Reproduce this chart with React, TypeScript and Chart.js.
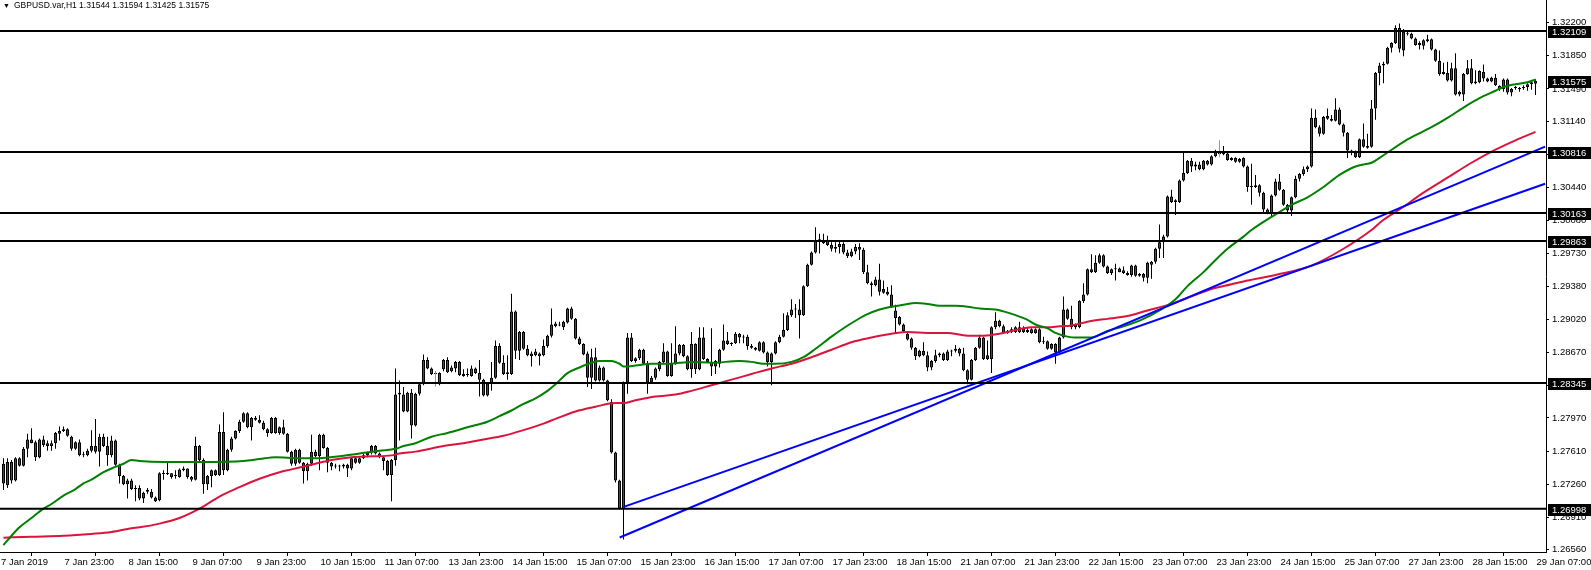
import React, { useEffect, useRef } from "react";
import { Chart, registerables } from "chart.js";

Chart.register(...registerables);

// ---------- layout constants ----------
const W = 1591;
const H = 570;
const AXIS_X = 1546; // right edge of plot area (price axis line)
const PLOT_BOTTOM = 552; // bottom edge of plot area (time axis line)
const BAR_PX = 4;
const FIRST_BAR_PX = 3.5;
const REF_PRICE = 1.322;
const REF_Y = 22.5;
const PRICE_PER_PX = 0.00010696;
const X_MIN = -FIRST_BAR_PX / BAR_PX;
const X_MAX = X_MIN + AXIS_X / BAR_PX;
const Y_MAX = REF_PRICE + REF_Y * PRICE_PER_PX;
const Y_MIN = REF_PRICE - (PLOT_BOTTOM - REF_Y) * PRICE_PER_PX;
const FONT = '"Liberation Sans", Arial, sans-serif';

// ---------- data (prices in pips: 12748 = 1.2748) ----------
const PIP = 10000;

const OPEN = [
  12748,12725,12750,12730,12754,12746,12764,12774,12771,12755,
  12774,12770,12767,12770,12780,12783,12785,12777,12764,12771,
  12758,12757,12762,12767,12761,12777,12767,12757,12773,12747,
  12735,12726,12730,12721,12722,12711,12720,12718,12712,12709,
  12738,12737,12738,12735,12734,12741,12743,12734,12731,12767,
  12752,12726,12735,12741,12736,12782,12741,12763,12775,12783,
  12793,12802,12787,12797,12795,12792,12785,12781,12797,12781,
  12787,12780,12761,12748,12763,12749,12740,12748,12761,12756,
  12779,12765,12749,12745,12746,12745,12747,12743,12754,12749,
  12754,12757,12760,12767,12759,12755,12751,12736,12752,12824,
  12822,12804,12824,12789,12823,12833,12859,12850,12844,12845,
  12849,12859,12851,12850,12857,12844,12843,12842,12850,12845,
  12838,12821,12834,12840,12874,12856,12846,12844,12911,12869,
  12889,12871,12866,12864,12866,12864,12874,12885,12898,12896,
  12894,12899,12914,12903,12882,12876,12866,12840,12862,12837,
  12851,12837,12814,12760,12730,12700,12835,12883,12858,12861,
  12870,12855,12835,12840,12849,12857,12868,12842,12855,12866,
  12875,12863,12849,12876,12849,12883,12860,12857,12858,12855,
  12870,12880,12876,12877,12887,12883,12884,12874,12872,12869,
  12878,12867,12857,12866,12878,12884,12891,12907,12913,12913,
  12907,12938,12961,12974,12987,12984,12987,12982,12978,12980,
  12983,12974,12970,12975,12980,12977,12953,12941,12939,12945,
  12935,12932,12929,12912,12905,12897,12887,12882,12872,12863,
  12869,12864,12851,12858,12864,12866,12859,12868,12869,12871,
  12866,12848,12838,12859,12872,12883,12864,12860,12894,12901,
  12895,12888,12892,12889,12894,12893,12889,12892,12888,12892,
  12878,12879,12871,12876,12867,12883,12913,12903,12897,12894,
  12922,12929,12956,12953,12963,12971,12959,12952,12956,12957,
  12955,12952,12950,12960,12949,12951,12947,12961,12964,12978,
  12985,12991,13034,13030,13028,13051,13059,13072,13066,13068,
  13063,13072,13068,13077,13082,13082,13080,13075,13075,13074,
  13075,13066,13045,13044,13046,13038,13020,13016,13035,13050,
  13041,13025,13019,13033,13053,13058,13063,13066,13118,13108,
  13101,13117,13117,13115,13127,13111,13102,13083,13081,13076,
  13095,13086,13087,13128,13166,13174,13176,13193,13198,13214,
  13190,13208,13208,13203,13196,13195,13200,13202,13191,13179,
  13167,13166,13158,13171,13146,13143,13165,13171,13155,13156,
  13167,13160,13157,13161,13152,13149,13159,13145,13150,13149,
  13150,13151,13154,13154.4,
];

const HIGH = [
  12754,12754,12752,12755,12755,12766,12780,12786,12773,12775,
  12778,12773,12773,12782,12788,12788,12786,12778,12772,12774,
  12761,12764,12784,12796,12780,12780,12777,12778,12774,12748,
  12736,12732,12732,12725,12725,12718,12722,12721,12713,12739,
  12741,12749,12738,12741,12743,12745,12743,12735,12777,12768,
  12754,12736,12742,12742,12790,12803,12764,12777,12784,12795,
  12803,12803,12798,12799,12800,12794,12786,12798,12798,12788,
  12795,12781,12762,12764,12764,12750,12749,12779,12763,12780,
  12780,12766,12750,12748,12747,12748,12748,12755,12755,12755,
  12759,12761,12768,12768,12760,12756,12752,12753,12850,12837,
  12830,12825,12828,12824,12834,12865,12862,12851,12847,12846,
  12860,12862,12853,12858,12858,12849,12850,12853,12851,12859,
  12839,12835,12857,12880,12877,12864,12864,12930,12912,12890,
  12890,12875,12868,12871,12867,12881,12886,12914,12900,12900,
  12901,12915,12916,12904,12884,12877,12868,12871,12872,12853,
  12852,12838,12817,12761,12731,12836,12888,12888,12862,12871,
  12871,12858,12842,12851,12858,12877,12869,12877,12895,12876,
  12876,12864,12889,12877,12894,12894,12861,12893,12859,12871,
  12897,12889,12878,12889,12888,12886,12886,12876,12873,12879,
  12879,12868,12867,12879,12886,12909,12910,12924,12919,12924,
  12939,12962,12975,13001,12994,12994,12992,12985,12985,12986,
  12985,12977,12978,12983,12984,12979,12961,12943,12948,12962,
  12944,12937,12939,12918,12906,12898,12888,12883,12873,12870,
  12878,12868,12859,12870,12867,12867,12870,12870,12875,12872,
  12872,12849,12860,12873,12886,12884,12880,12895,12910,12902,
  12897,12891,12894,12895,12900,12895,12894,12893,12893,12893,
  12884,12880,12877,12877,12884,12927,12914,12917,12898,12923,
  12941,12957,12972,12971,12973,12972,12960,12957,12962,12958,
  12959,12954,12961,12961,12952,12952,12964,12965,12979,13004,
  12993,13035,13041,13031,13052,13081,13073,13075,13071,13071,
  13073,13073,13078,13084,13083,13088,13081,13076,13076,13075,
  13076,13067,13069,13057,13047,13039,13021,13036,13053,13058,
  13042,13026,13034,13056,13059,13066,13067,13128,13127,13110,
  13120,13128,13121,13139,13129,13112,13103,13084,13083,13096,
  13112,13101,13137,13167,13177,13178,13194,13199,13217,13219,
  13213,13212,13209,13204,13200,13202,13207,13203,13192,13190,
  13177,13178,13177,13187,13147,13166,13180,13181,13169,13169,
  13175,13161,13162,13165,13153,13160,13160,13150,13152,13151,
  13153,13155,13158,13159.4,
];

const LOW = [
  12720,12722,12727,12729,12745,12745,12755,12770,12751,12754,
  12766,12762,12762,12764,12773,12782,12777,12762,12763,12756,
  12755,12756,12760,12759,12745,12766,12746,12755,12746,12727,
  12725,12711,12720,12708,12709,12706,12716,12711,12707,12708,
  12731,12736,12732,12732,12733,12740,12732,12729,12730,12751,
  12716,12720,12723,12735,12735,12736,12740,12761,12774,12781,
  12792,12786,12773,12794,12791,12784,12777,12780,12780,12779,
  12779,12760,12746,12746,12748,12727,12730,12746,12755,12741,
  12764,12739,12741,12743,12740,12743,12734,12741,12748,12748,
  12753,12755,12758,12758,12754,12741,12735,12708,12746,12773,
  12803,12803,12775,12788,12821,12832,12849,12843,12831,12832,
  12847,12845,12846,12846,12842,12841,12841,12841,12844,12820,
  12820,12820,12826,12839,12855,12843,12838,12843,12860,12859,
  12870,12863,12852,12863,12853,12863,12872,12883,12894,12895,
  12891,12898,12902,12881,12875,12864,12830,12828,12836,12836,
  12836,12815,12759,12728,12699,12667,12823,12857,12856,12859,
  12854,12823,12834,12838,12847,12855,12841,12841,12854,12864,
  12862,12848,12840,12844,12848,12859,12856,12842,12844,12851,
  12869,12875,12874,12876,12877,12877,12870,12871,12869,12868,
  12866,12852,12832,12865,12877,12883,12890,12905,12904,12882,
  12906,12937,12960,12973,12973,12983,12981,12975,12974,12973,
  12972,12968,12969,12972,12966,12951,12940,12927,12938,12928,
  12930,12928,12915,12888,12896,12889,12880,12870,12859,12862,
  12863,12847,12848,12856,12862,12858,12858,12863,12867,12863,
  12847,12833,12837,12858,12871,12859,12859,12845,12892,12894,
  12887,12887,12888,12888,12888,12888,12888,12887,12887,12877,
  12876,12870,12870,12855,12865,12882,12902,12892,12892,12893,
  12920,12928,12952,12952,12962,12958,12951,12950,12944,12953,
  12951,12949,12948,12948,12948,12943,12941,12946,12962,12968,
  12968,12990,13027,13014,13027,13050,13058,13060,13062,13062,
  13062,13067,13067,13076,13078,13078,13072,13072,13070,13070,
  13065,13039,13025,13043,13034,13017,13015,13012,13034,13040,
  13024,13016,13013,13032,13050,13056,13060,13065,13107,13098,
  13100,13116,13114,13114,13110,13098,13075,13078,13075,13075,
  13086,13085,13086,13116,13153,13155,13175,13188,13197,13188,
  13184,13206,13202,13195,13191,13191,13199,13190,13178,13163,
  13164,13157,13157,13142,13141,13136,13164,13154,13154,13155,
  13157,13156,13156,13152,13147,13146,13143,13141,13148,13146,
  13148,13147,13148,13142.5,
];

const CLOSE = [
  12727,12750,12730,12754,12746,12764,12774,12770,12755,12774,
  12768,12767,12770,12781,12783,12785,12778,12764,12771,12757,
  12757,12762,12767,12761,12777,12767,12757,12773,12747,12735,
  12726,12730,12721,12722,12711,12717,12718,12712,12708,12738,
  12737,12738,12734,12735,12742,12743,12734,12731,12767,12752,
  12726,12735,12741,12736,12782,12741,12763,12775,12783,12793,
  12802,12787,12797,12795,12792,12785,12781,12797,12781,12787,
  12780,12761,12748,12763,12749,12740,12748,12761,12756,12779,
  12765,12749,12745,12746,12745,12747,12743,12754,12749,12754,
  12757,12760,12767,12759,12755,12751,12736,12752,12822,12822,
  12804,12824,12789,12823,12833,12859,12850,12844,12845,12833,
  12859,12846,12847,12857,12843,12842,12843,12850,12845,12838,
  12821,12834,12840,12874,12856,12844,12844,12911,12869,12889,
  12871,12864,12863,12868,12863,12874,12885,12897,12895,12897,
  12900,12914,12903,12882,12876,12865,12840,12862,12837,12851,
  12837,12816,12760,12730,12700,12835,12883,12858,12861,12870,
  12855,12835,12840,12850,12857,12868,12842,12855,12866,12875,
  12863,12849,12876,12849,12883,12860,12857,12852,12852,12870,
  12880,12876,12877,12887,12883,12884,12874,12872,12870,12878,
  12867,12857,12866,12878,12884,12891,12907,12913,12914,12907,
  12938,12961,12974,12987,12988,12987,12982,12978,12980,12983,
  12974,12970,12975,12980,12977,12953,12941,12939,12945,12932,
  12931,12929,12916,12904,12897,12890,12881,12872,12863,12869,
  12864,12851,12858,12864,12866,12859,12868,12869,12871,12866,
  12848,12838,12859,12872,12883,12860,12860,12894,12901,12895,
  12888,12890,12889,12894,12889,12889,12891,12888,12892,12878,
  12879,12871,12876,12867,12883,12913,12903,12894,12894,12922,
  12929,12956,12953,12963,12971,12959,12952,12956,12957,12953,
  12952,12950,12960,12949,12951,12947,12963,12964,12978,12985,
  12991,13034,13028,13028,13051,13059,13072,13066,13068,13063,
  13072,13068,13077,13082,13079,13079,13073,13073,13071,13071,
  13066,13044,13044,13046,13038,13020,13016,13035,13050,13041,
  13025,13019,13033,13053,13058,13063,13066,13118,13108,13101,
  13119,13120,13115,13127,13111,13102,13083,13081,13076,13095,
  13087,13088,13128,13166,13174,13176,13193,13198,13214,13192,
  13210,13209,13203,13196,13198,13201,13202,13191,13179,13165,
  13165,13158,13171,13143,13143,13165,13171,13155,13157,13168,
  13160,13157,13161,13153,13149,13159,13145,13149,13150,13149,
  13151,13154,13156,13157.5,
];

// moving averages read at selected bars: [bar index, pips]
const GREEN_MA = [
  [0,12661],[2,12671],[4,12680],[7,12690],[10,12700],[12,12705],[15,12714],[18,12721],
  [20,12727],[22,12731],[25,12739],[27,12743],[30,12748],[32,12752],[34,12751],[40,12750],
  [50,12750],[60,12751],[64,12753],[68,12755],[74,12754],[79,12754],[84,12756],[89,12759],
  [94,12762],[98,12764],[100,12767],[103,12770],[107,12777],[111,12781],[116,12787],[121,12793],
  [124,12799],[127,12805],[130,12812],[133,12818],[136,12826],[138,12833],[141,12845],[144,12851],
  [147,12856],[149,12858],[152,12858],[154,12855],[155,12852],[158,12853],[162,12855],[166,12855],
  [169,12856],[172,12857],[177,12856],[184,12858],[187,12857],[190,12855],[193,12855],[197,12857],
  [200,12862],[203,12871],[207,12884],[210,12893],[213,12901],[216,12908],[219,12913],[222,12916],
  [225,12918],[228,12920],[231,12919],[234,12917],[238,12917],[241,12916],[244,12914],[248,12913],
  [250,12911],[253,12907],[256,12902],[258,12897],[261,12893],[263,12888],[266,12884],[268,12883],
  [271,12883],[273,12884],[274,12886],[276,12890],[280,12895],[285,12903],[289,12912],[293,12924],
  [296,12938],[300,12953],[303,12966],[306,12978],[310,12991],[312,12998],[317,13012],[322,13025],
  [326,13033],[330,13044],[334,13057],[338,13066],[341,13069],[342,13070],[345,13078],[351,13095],
  [357,13108],[361,13118],[365,13129],[369,13139],[373,13147],[375,13151],[378,13154],[381,13156],
  [383,13159],
];

const RED_MA = [
  [0,12669],[7,12670],[15,12671],[22,12673],[27,12675],[32,12679],[34,12680],[39,12684],
  [44,12690],[49,12700],[54,12713],[59,12723],[64,12732],[69,12739],[72,12742],[77,12747],
  [82,12752],[87,12755],[92,12756],[97,12757],[99,12759],[103,12761],[110,12767],[115,12770],
  [120,12774],[125,12778],[130,12784],[135,12791],[138,12796],[143,12804],[148,12809],[153,12813],
  [155,12813],[158,12816],[163,12820],[168,12822],[172,12826],[177,12832],[182,12838],[187,12844],
  [192,12850],[197,12855],[202,12862],[207,12870],[212,12878],[217,12883],[222,12887],[226,12889],
  [231,12888],[236,12888],[241,12885],[245,12885],[249,12887],[253,12891],[257,12894],[261,12894],
  [264,12895],[267,12896],[271,12900],[274,12902],[276,12903],[281,12906],[286,12912],[292,12919],
  [297,12927],[302,12935],[307,12940],[310,12943],[318,12950],[327,12960],[335,12978],[342,12998],
  [345,13009],[349,13020],[355,13038],[361,13054],[367,13070],[373,13084],[378,13094],[383,13103],
];

// horizontal levels
const LEVELS = [1.32109, 1.30816, 1.30163, 1.29863, 1.28345, 1.26998];
const CURRENT_PRICE = 1.31575;

// trend lines: [bar index, price] anchors
const TREND_A = [[154.05, 1.26692], [385.4, 1.30873]];
const TREND_B = [[155.05, 1.27019], [385.4, 1.30476]];

// lime marks: [bar, low pips, high pips]
const MARKS = [[108, 12831, 12847], [304, 13076, 13094]];

const PRICE_TICKS = [
  1.322, 1.3185, 1.3149, 1.3114, 1.3079, 1.3044, 1.3008, 1.2973, 1.2938,
  1.2902, 1.2867, 1.2832, 1.2797, 1.2761, 1.2726, 1.2691, 1.2656,
];

const TIME_LABELS = [
  "7 Jan 2019", "7 Jan 23:00", "8 Jan 15:00", "9 Jan 07:00", "9 Jan 23:00",
  "10 Jan 15:00", "11 Jan 07:00", "13 Jan 23:00", "14 Jan 15:00", "15 Jan 07:00",
  "15 Jan 23:00", "16 Jan 15:00", "17 Jan 07:00", "17 Jan 23:00", "18 Jan 15:00",
  "21 Jan 07:00", "21 Jan 23:00", "22 Jan 15:00", "23 Jan 07:00", "23 Jan 23:00",
  "24 Jan 15:00", "25 Jan 07:00", "27 Jan 23:00", "28 Jan 15:00", "29 Jan 07:00",
];
// bar index of each label (first one sits on the left edge)
const TIME_TICK_BARS = [
  X_MIN, 15, 31, 47, 63, 79, 95, 111, 127, 143, 159, 175, 191, 207, 223,
  239, 255, 271, 287, 303, 319, 335, 351, 367, 383,
];

const TITLE = "GBPUSD.var,H1 1.31544 1.31594 1.31425 1.31575";

const BULL = "#008000";
const BEAR = "#b01e23";
const GREEN_LINE = "#008000";
const RED_LINE = "#dc143c";
const BLUE_LINE = "#0000ff";

const levelBoxes = {
  id: "levelBoxes",
  afterDraw(chart: any) {
    const ctx = chart.ctx;
    const ys = chart.scales.y;
    ctx.save();
    ctx.font = `9.5px ${FONT}`;
    ctx.textBaseline = "middle";
    ctx.textAlign = "left";
    for (const v of [...LEVELS, CURRENT_PRICE]) {
      const py = Math.round(ys.getPixelForValue(v));
      ctx.fillStyle = "#000";
      ctx.fillRect(AXIS_X + 2, py - 5, W - AXIS_X - 2, 12);
      ctx.fillStyle = "#fff";
      ctx.fillText(v.toFixed(5), AXIS_X + 6, py + 1);
    }
    ctx.restore();
  },
};

export default function App() {
  const ref = useRef<HTMLCanvasElement | null>(null);

  useEffect(() => {
    document.body.style.margin = "0";
    document.body.style.overflow = "hidden";
    const idx = OPEN.map((_, i) => i);
    const wickData = idx.map((i) => ({ x: i, y: [LOW[i] / PIP, HIGH[i] / PIP] }));
    const bodyData = idx.map((i) => ({ x: i, y: [OPEN[i] / PIP, CLOSE[i] / PIP] }));
    const bodyColors = idx.map((i) => (CLOSE[i] >= OPEN[i] ? BULL : BEAR));
    const markData = MARKS.map(([b, l, h]) => ({ x: b, y: [l / PIP, h / PIP] }));

    const lineBase = {
      type: "line" as const,
      pointRadius: 0,
      pointHoverRadius: 0,
      fill: false,
      borderWidth: 2,
    };

    const levelSets = LEVELS.map((v) => ({
      ...lineBase,
      data: [
        { x: X_MIN, y: v },
        { x: X_MAX, y: v },
      ],
      borderColor: "#000",
      order: 0,
    }));

    const trendSets = [TREND_A, TREND_B].map((t) => ({
      ...lineBase,
      data: t.map(([x, y]) => ({ x, y })),
      borderColor: BLUE_LINE,
      order: 0,
    }));

    const chart = new Chart(ref.current as HTMLCanvasElement, {
      type: "bar",
      data: {
        datasets: [
          {
            type: "bar",
            data: wickData as any,
            backgroundColor: "#000",
            borderWidth: 0,
            barThickness: 1,
            maxBarThickness: 1,
            grouped: false,
            minBarLength: 1,
            inflateAmount: 0,
            order: 5,
          } as any,
          {
            type: "bar",
            data: bodyData as any,
            backgroundColor: bodyColors,
            borderColor: "#000",
            borderWidth: 1,
            borderSkipped: false,
            barThickness: 3,
            maxBarThickness: 3,
            grouped: false,
            minBarLength: 1,
            inflateAmount: 0,
            order: 4,
          } as any,
          {
            type: "bar",
            data: markData as any,
            backgroundColor: "#00ff00",
            borderWidth: 0,
            barThickness: 1,
            maxBarThickness: 1,
            grouped: false,
            inflateAmount: 0,
            order: 3,
          } as any,
          {
            ...lineBase,
            data: RED_MA.map(([x, y]) => ({ x, y: y / PIP })),
            borderColor: RED_LINE,
            cubicInterpolationMode: "monotone",
            order: 2,
          } as any,
          {
            ...lineBase,
            data: GREEN_MA.map(([x, y]) => ({ x, y: y / PIP })),
            borderColor: GREEN_LINE,
            cubicInterpolationMode: "monotone",
            order: 1,
          } as any,
          ...(levelSets as any[]),
          ...(trendSets as any[]),
        ],
      },
      options: {
        responsive: false,
        maintainAspectRatio: false,
        devicePixelRatio: 1,
        animation: false,
        events: [],
        layout: { padding: 0 },
        plugins: {
          legend: { display: false },
          tooltip: { enabled: false },
          title: { display: false },
        },
        scales: {
          x: {
            type: "linear",
            position: "bottom",
            min: X_MIN,
            max: X_MAX,
            bounds: "data",
            offset: false,
            afterBuildTicks: (s: any) => {
              s.ticks = TIME_TICK_BARS.map((v) => ({ value: v }));
            },
            afterFit: (s: any) => {
              s.height = H - PLOT_BOTTOM;
              s.paddingLeft = 0;
              s.paddingRight = 0;
            },
            grid: {
              drawOnChartArea: false,
              drawTicks: true,
              tickLength: 4,
              color: "#000",
              lineWidth: 1,
            },
            border: { display: true, color: "#000", width: 1 },
            ticks: {
              autoSkip: false,
              maxRotation: 0,
              minRotation: 0,
              align: "start",
              padding: 1,
              labelOffset: 1,
              color: "#000",
              font: { size: 9.5, family: FONT },
              callback: (_v: any, i: number) => TIME_LABELS[i] ?? "",
            },
          } as any,
          y: {
            type: "linear",
            position: "right",
            min: Y_MIN,
            max: Y_MAX,
            bounds: "data",
            afterBuildTicks: (s: any) => {
              s.ticks = PRICE_TICKS.map((v) => ({ value: v }));
            },
            afterFit: (s: any) => {
              s.width = W - AXIS_X;
              s.paddingTop = 0;
              s.paddingBottom = 0;
            },
            grid: {
              drawOnChartArea: false,
              drawTicks: true,
              tickLength: 3,
              color: "#000",
              lineWidth: 1,
            },
            border: { display: true, color: "#000", width: 1 },
            ticks: {
              autoSkip: false,
              padding: 3,
              color: "#000",
              font: { size: 9.5, family: FONT },
              callback: (v: any) => Number(v).toFixed(5),
            },
          } as any,
        },
      },
      plugins: [levelBoxes],
    } as any);

    return () => chart.destroy();
  }, []);

  return (
    <div
      style={{
        position: "relative",
        width: W,
        height: H,
        background: "#fff",
        overflow: "hidden",
      }}
    >
      <canvas ref={ref} width={W} height={H} style={{ display: "block" }} />
      <div
        style={{
          position: "absolute",
          left: 3,
          top: 0,
          fontFamily: FONT,
          fontSize: 8.5,
          lineHeight: "11px",
          color: "#000",
          whiteSpace: "pre",
        }}
      >
        <span style={{ fontSize: 7, marginRight: 4 }}>▼</span>
        {TITLE}
      </div>
    </div>
  );
}
